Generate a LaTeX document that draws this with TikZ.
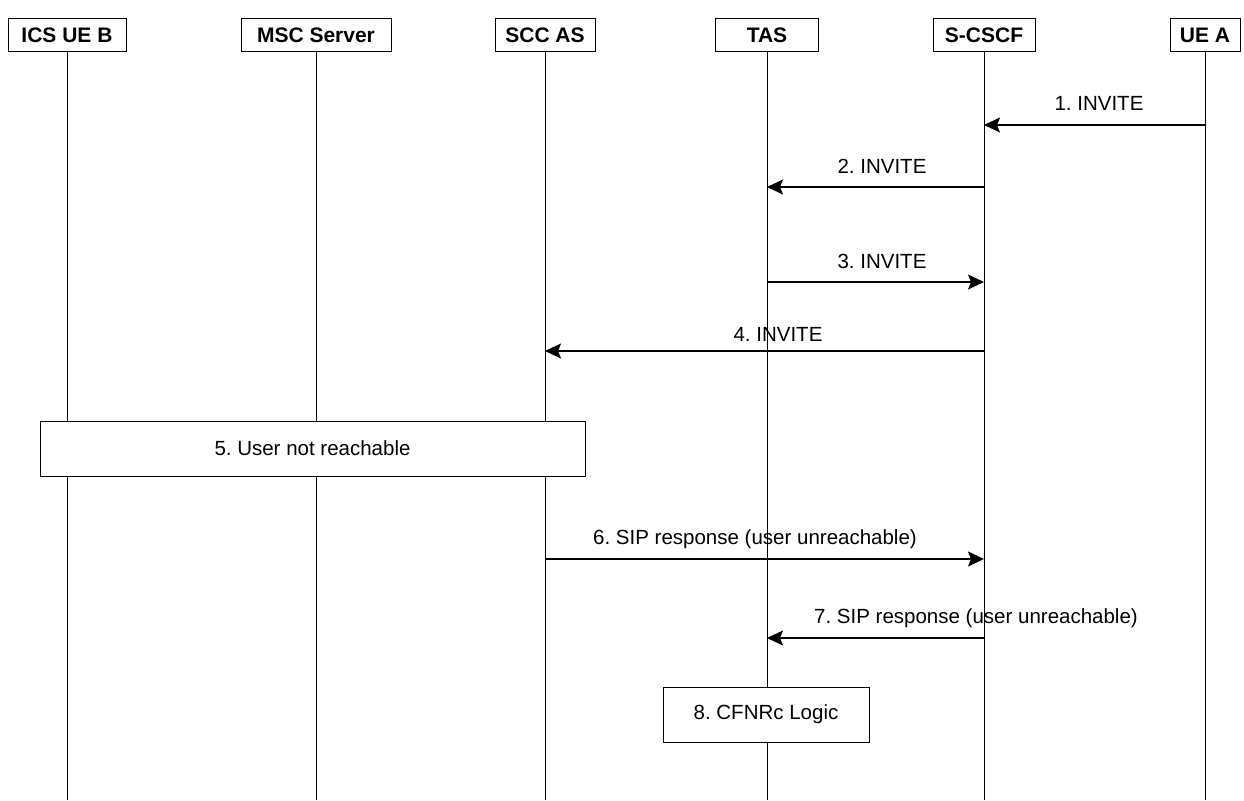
\documentclass[tikz,border=0pt]{standalone}
\usepackage{fontspec}
\setmainfont{Liberation Sans}
\usetikzlibrary{arrows.meta}
\begin{document}
\frenchspacing
\begin{tikzpicture}[x=1pt,y=-1pt,
  hdr/.style={draw, line width=1pt, fill=white, inner sep=0pt, font=\fontsize{21}{25}\selectfont\bfseries},
  actbox/.style={draw, line width=1pt, fill=white, inner sep=0pt, font=\fontsize{20.5}{24}\selectfont},
  life/.style={line width=0.9pt},
  msg/.style={line width=1.5pt, -{Stealth[length=16pt,width=15pt,inset=3pt]}},
  lbl/.style={font=\fontsize{20.5}{24}\selectfont, inner sep=0pt}]
\useasboundingbox (0,0) rectangle (1244,800);
% header boxes
\node[hdr, minimum width=118pt, minimum height=33pt] (h1) at (67,35) {ICS UE B};
\node[hdr, minimum width=150pt, minimum height=33pt] (h2) at (316,35) {MSC Server};
\node[hdr, minimum width=100pt, minimum height=33pt] (h3) at (545,35) {SCC AS};
\node[hdr, minimum width=103pt, minimum height=33pt] (h4) at (767,35) {TAS};
\node[hdr, minimum width=102pt, minimum height=33pt] (h5) at (984,35) {S-CSCF};
\node[hdr, minimum width=70pt, minimum height=33pt] (h6) at (1205,35) {UE A};
% lifeline ends
\coordinate (e1) at (67,800);
\coordinate (e2) at (316,800);
\coordinate (e3) at (545,800);
\coordinate (e4) at (767,800);
\coordinate (e5) at (984,800);
\coordinate (e6) at (1205,800);
\draw[life] (h1) -- (e1);
\draw[life] (h2) -- (e2);
\draw[life] (h3) -- (e3);
\draw[life] (h4) -- (e4);
\draw[life] (h5) -- (e5);
\draw[life] (h6) -- (e6);
% message end points
\coordinate (m1a) at (1205,125); \coordinate (m1b) at (984,125);
\coordinate (m2a) at (984,187);  \coordinate (m2b) at (767,187);
\coordinate (m3a) at (767,282);  \coordinate (m3b) at (984,282);
\coordinate (m4a) at (984,351);  \coordinate (m4b) at (545,351);
\coordinate (m6a) at (545,559);  \coordinate (m6b) at (984,559);
\coordinate (m7a) at (984,638);  \coordinate (m7b) at (767,638);
\draw[msg] (m1a) -- (m1b);
\draw[msg] (m2a) -- (m2b);
\draw[msg] (m3a) -- (m3b);
\draw[msg] (m4a) -- (m4b);
\draw[msg] (m6a) -- (m6b);
\draw[msg] (m7a) -- (m7b);
\node[lbl] (l1) at (1099,103) {1. INVITE};
\node[lbl] (l2) at (882,166) {2. INVITE};
\node[lbl] (l3) at (882,261) {3. INVITE};
\node[lbl] (l4) at (778,334) {4. INVITE};
\node[lbl] (l6) at (755,539) {6. SIP response (user unreachable)};
\node[lbl] (l7) at (976,618) {7. SIP response (user unreachable)};
% action boxes
\node[actbox, minimum width=545pt, minimum height=55pt] (b5) at (312.5,448.5) {5. User not reachable};
\node[actbox, minimum width=206pt, minimum height=55pt] (b8) at (766,714.5) {8. CFNRc Logic};
\end{tikzpicture}
\end{document}
